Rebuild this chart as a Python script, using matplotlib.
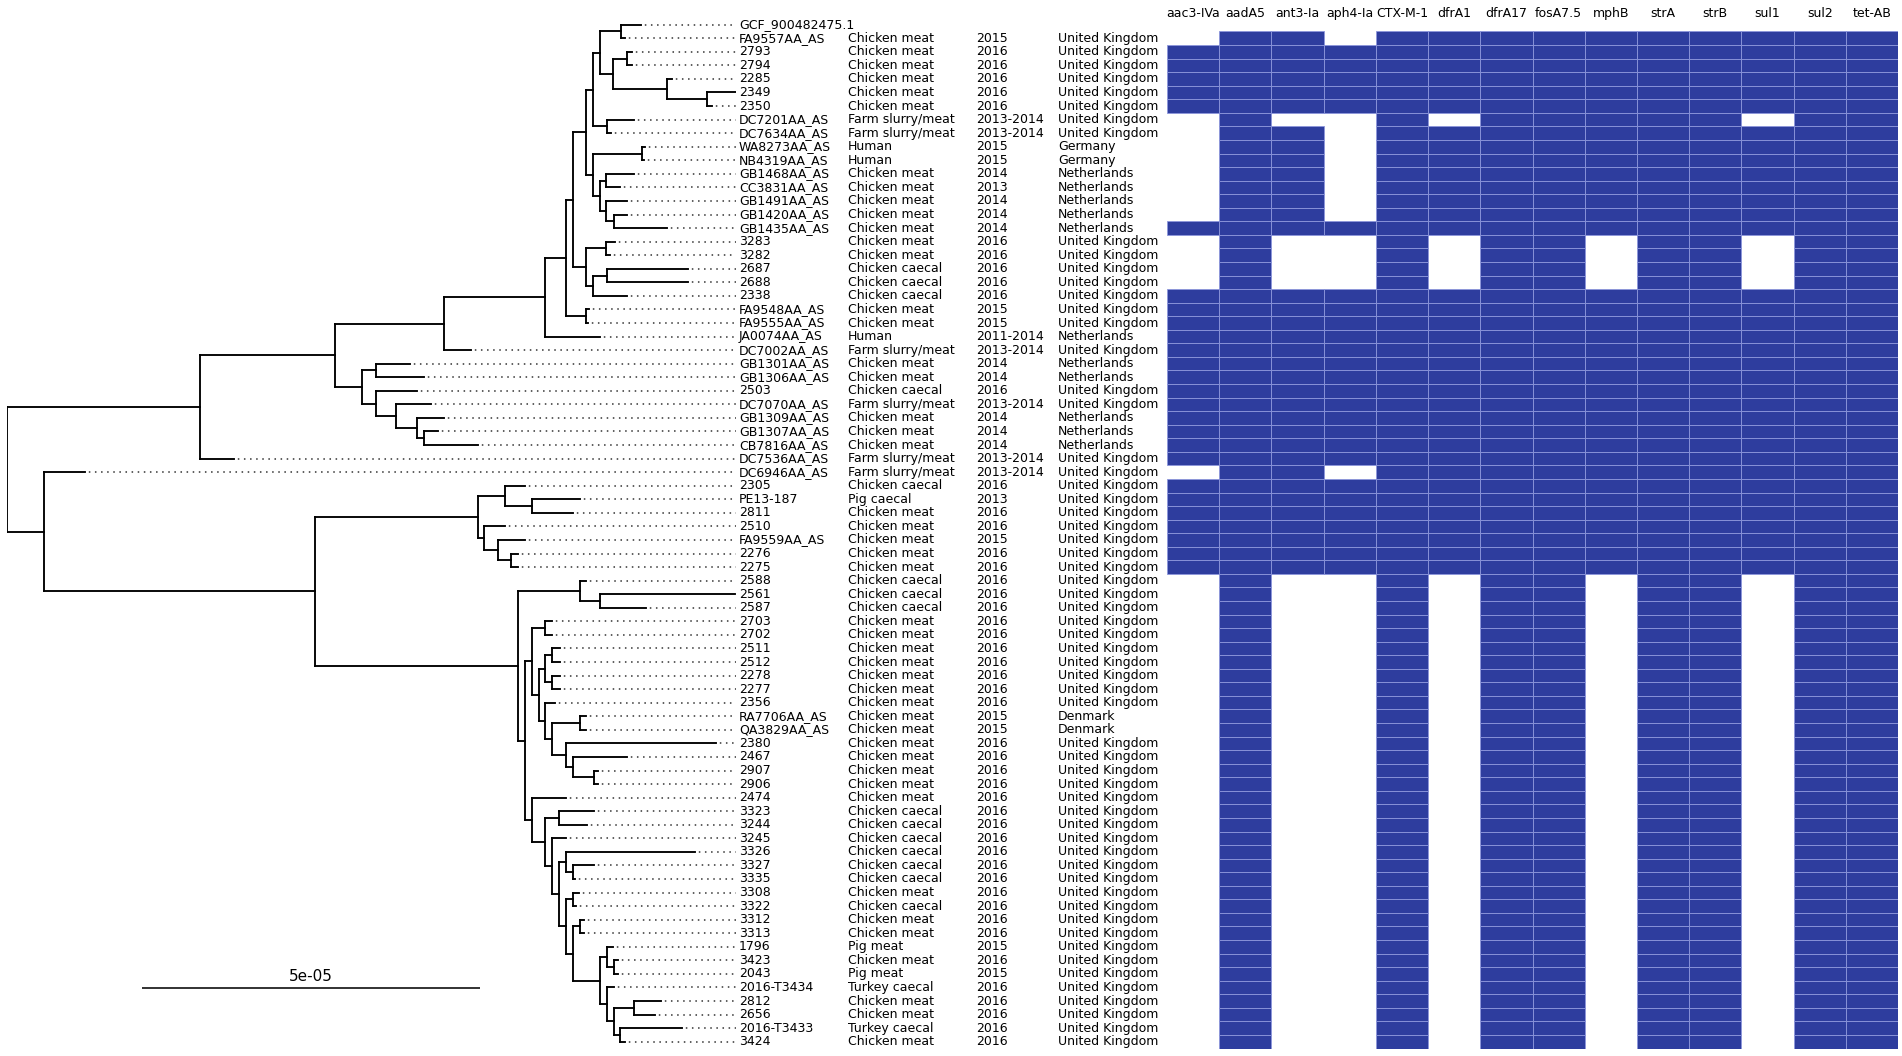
import re
import numpy as np
import matplotlib
matplotlib.use("Agg")
import matplotlib.pyplot as plt
from matplotlib.collections import LineCollection

# ---------------- data ----------------
TREE_UNIT = 1e-6   # branch lengths below are given in units of 1e-6 substitutions/site

# upper clade
P1 = "((GCF_900482475.1:2.93,FA9557AA_AS:0.59):3.11,((2793:0.74,2794:0.74):2.13,(2285:0.67,(2349:4.73,2350:0.67):5.92):8.05):1.86)"
Q = "(DC7201AA_AS:4.07,DC7634AA_AS:0.59)"
H1 = f"({P1}:1.09,{Q}:2.06)"
P2 = "((GB1468AA_AS:4.07,CC3831AA_AS:2.00):0.96,(GB1491AA_AS:3.03,(GB1420AA_AS:2.00,GB1435AA_AS:7.91):1.04):0.96)"
H2 = f"((WA8273AA_AS:0.44,NB4319AA_AS:0.30):7.31,{P2}:1.09)"
G = f"({H1}:0.98,{H2}:0.98)"
G2 = "((3283:1.21,3282:0.59):3.03,((2687:12.06,2688:12.06):2.06,2338:5.09):0.98)"
F = f"({G}:1.98,{G2}:1.98)"
E = f"({F}:1.02,(FA9548AA_AS:0.44,FA9555AA_AS:0.30):3.00)"
D = f"({E}:3.06,JA0074AA_AS:8.14)"
C = f"({D}:14.99,DC7002AA_AS:4.10)"
N362 = "((GB1301AA_AS:5.03,GB1306AA_AS:7.17):2.01,(2503:6.07,(DC7070AA_AS:5.12,(GB1309AA_AS:4.04,(GB1307AA_AS:2.06,CB7816AA_AS:8.03):1.04):3.06):2.96):2.01)"
B = f"({C}:16.01,{N362}:3.98)"
A = f"({B}:20.04,DC7536AA_AS:5.03)"

# lower clade
J1 = "(2305:2.96,(PE13-187:7.10,2811:6.07):3.99)"
J2 = "(2510:3.03,(FA9559AA_AS:3.99,(2276:1.04,2275:1.04):1.92):2.00)"
J = f"({J1}:4.05,{J2}:1.02)"
K1 = "(2588:0.89,(2561:19.91,2587:6.80):2.96)"
N552c = "((RA7706AA_AS:0.89,QA3829AA_AS:0.89):4.14,(2380:22.22,(2467:8.05,(2907:0.65,2906:0.65):3.11):1.05):2.00)"
L2 = f"(((2511:1.18,2512:1.18):1.04,(2278:1.18,2277:1.18):1.04):0.89,(2356:1.50,{N552c}:1.04):0.89)"
L1 = f"((2703:0.98,2702:0.98):1.92,{L2}:1.04)"
N600b = "((1796:0.90,(3423:0.67,2043:0.67):1.04):0.96,(2016-T3434:1.11,((2812:4.05,2656:3.12):2.97,(2016-T3433:9.17,3424:0.74):0.96):1.04):0.96)"
N565b = f"((3308:0.95,3322:0.50):1.05,((3312:0.59,3313:0.59):1.09,{N600b}:4.05):1.05)"
N559b = f"((3326:19.11,(3327:3.11,3335:0.36):1.05):0.96,{N565b}:0.96)"
N552d = f"(3245:2.00,{N559b}:1.04)"
N545d = f"((3323:5.12,3244:4.07):2.07,{N552d}:1.04)"
L3 = f"(2474:4.96,{N545d}:1.92)"
K2 = f"({L1}:1.04,{L3}:1.04)"
K = f"({K1}:9.17,{K2}:1.04)"
I = f"({J}:24.05,{K}:30.03)"
Hn = f"(DC6946AA_AS:6.07,{I}:40.09)"
TREE = f"({A}:28.55,{Hn}:5.47);"

isolates = ["GCF_900482475.1", "FA9557AA_AS", "2793", "2794", "2285", "2349", "2350",
            "DC7201AA_AS", "DC7634AA_AS", "WA8273AA_AS", "NB4319AA_AS", "GB1468AA_AS",
            "CC3831AA_AS", "GB1491AA_AS", "GB1420AA_AS", "GB1435AA_AS", "3283", "3282",
            "2687", "2688", "2338", "FA9548AA_AS", "FA9555AA_AS", "JA0074AA_AS",
            "DC7002AA_AS", "GB1301AA_AS", "GB1306AA_AS", "2503", "DC7070AA_AS",
            "GB1309AA_AS", "GB1307AA_AS", "CB7816AA_AS", "DC7536AA_AS", "DC6946AA_AS",
            "2305", "PE13-187", "2811", "2510", "FA9559AA_AS", "2276", "2275", "2588",
            "2561", "2587", "2703", "2702", "2511", "2512", "2278", "2277", "2356",
            "RA7706AA_AS", "QA3829AA_AS", "2380", "2467", "2907", "2906", "2474", "3323",
            "3244", "3245", "3326", "3327", "3335", "3308", "3322", "3312", "3313", "1796",
            "3423", "2043", "2016-T3434", "2812", "2656", "2016-T3433", "3424"]

CM, CC, FS = "Chicken meat", "Chicken caecal", "Farm slurry/meat"
sources = ["", CM, CM, CM, CM, CM, CM, FS, FS, "Human", "Human", CM, CM, CM, CM, CM,
           CM, CM, CC, CC, CC, CM, CM, "Human", FS, CM, CM, CC, FS, CM, CM, CM, FS, FS,
           CC, "Pig caecal", CM, CM, CM, CM, CM, CC, CC, CC, CM, CM, CM, CM, CM, CM, CM,
           CM, CM, CM, CM, CM, CM, CM, CC, CC, CC, CC, CC, CC, CM, CC, CM, CM, "Pig meat",
           CM, "Pig meat", "Turkey caecal", CM, CM, "Turkey caecal", CM]

years = ["", "2015", "2016", "2016", "2016", "2016", "2016", "2013-2014", "2013-2014",
         "2015", "2015", "2014", "2013", "2014", "2014", "2014", "2016", "2016", "2016",
         "2016", "2016", "2015", "2015", "2011-2014", "2013-2014", "2014", "2014", "2016",
         "2013-2014", "2014", "2014", "2014", "2013-2014", "2013-2014", "2016", "2013",
         "2016", "2016", "2015", "2016", "2016", "2016", "2016", "2016", "2016", "2016",
         "2016", "2016", "2016", "2016", "2016", "2015", "2015", "2016", "2016", "2016",
         "2016", "2016", "2016", "2016", "2016", "2016", "2016", "2016", "2016", "2016",
         "2016", "2016", "2015", "2016", "2015", "2016", "2016", "2016", "2016", "2016"]

UK, NL, DE, DK = "United Kingdom", "Netherlands", "Germany", "Denmark"
countries = ["", UK, UK, UK, UK, UK, UK, UK, UK, DE, DE, NL, NL, NL, NL, NL, UK, UK,
             UK, UK, UK, UK, UK, NL, UK, NL, NL, UK, UK, NL, NL, NL, UK, UK, UK, UK,
             UK, UK, UK, UK, UK, UK, UK, UK, UK, UK, UK, UK, UK, UK, UK, DK, DK, UK,
             UK, UK, UK, UK, UK, UK, UK, UK, UK, UK, UK, UK, UK, UK, UK, UK, UK, UK,
             UK, UK, UK, UK]

genes = ["aac3-IVa", "aadA5", "ant3-Ia", "aph4-Ia", "CTX-M-1", "dfrA1", "dfrA17",
         "fosA7.5", "mphB", "strA", "strB", "sul1", "sul2", "tet-AB"]

# presence (1) / absence (0) of each gene, one string per isolate (row order above)
gene_calls = [
    "",
    "01101111111111",
    "11111111111111", "11111111111111", "11111111111111", "11111111111111", "11111111111111",
    "01001011111011",
    "01101111111111", "01101111111111", "01101111111111", "01101111111111",
    "01101111111111", "01101111111111", "01101111111111",
    "11111111111111",
    "01001011011011", "01001011011011", "01001011011011", "01001011011011",
    "11111111111111", "11111111111111", "11111111111111", "11111111111111",
    "11111111111111", "11111111111111", "11111111111111", "11111111111111",
    "11111111111111", "11111111111111", "11111111111111", "11111111111111",
    "11111111111111",
    "01101111111111",
    "11111111111111", "11111111111111", "11111111111111", "11111111111111",
    "11111111111111", "11111111111111", "11111111111111",
    "01001011011011", "01001011011011", "01001011011011", "01001011011011",
    "01001011011011", "01001011011011", "01001011011011", "01001011011011",
    "01001011011011", "01001011011011", "01001011011011", "01001011011011",
    "01001011011011", "01001011011011", "01001011011011", "01001011011011",
    "01001011011011", "01001011011011", "01001011011011", "01001011011011",
    "01001011011011", "01001011011011", "01001011011011", "01001011011011",
    "01001011011011", "01001011011011", "01001011011011", "01001011011011",
    "01001011011011", "01001011011011", "01001011011011", "01001011011011",
    "01001011011011", "01001011011011", "01001011011011",
]

SCALE_LEN = 5e-05

# ---------------- tree parsing / layout ----------------
def parse_newick(s):
    tokens = re.findall(r"[(),;]|[^(),;]+", s)
    pos = 0

    def node():
        nonlocal pos
        n = {"name": "", "len": 0.0, "children": []}
        if tokens[pos] == "(":
            pos += 1
            while True:
                n["children"].append(node())
                if tokens[pos] == ",":
                    pos += 1
                else:
                    pos += 1
                    break
        if pos < len(tokens) and tokens[pos] not in ("(", ")", ",", ";"):
            lab = tokens[pos]
            pos += 1
            if ":" in lab:
                nm, ln = lab.rsplit(":", 1)
                n["name"] = nm.strip()
                n["len"] = float(ln)
            else:
                n["name"] = lab.strip()
        return n

    return node()


row_of = {nm: i + 1 for i, nm in enumerate(isolates)}
root = parse_newick(TREE)


def layout(n, x0):
    n["x"] = x0 + n["len"] * TREE_UNIT
    if n["children"]:
        for c in n["children"]:
            layout(c, n["x"])
        n["y"] = (n["children"][0]["y"] + n["children"][-1]["y"]) / 2.0
    else:
        n["y"] = row_of[n["name"]]


root["len"] = 0.0
layout(root, 0.0)

segs, leaves = [], []


def collect(n):
    if n["children"]:
        segs.append([(n["x"], n["children"][0]["y"]), (n["x"], n["children"][-1]["y"])])
        for c in n["children"]:
            segs.append([(n["x"], c["y"]), (c["x"], c["y"])])
            collect(c)
    else:
        leaves.append(n)


collect(root)

# ---------------- figure ----------------
W, H = 1902, 1056
fig = plt.figure(figsize=(W / 100, H / 100), dpi=100)
nrows = len(isolates)
top_px, bot_px = 17.9, 1048.5
ax_bottom = 1 - bot_px / H
ax_height = (bot_px - top_px) / H

tree_left_px, tree_right_px = 7, 736
tree_xmax = (tree_right_px - tree_left_px) / 6.76 * 1e-6

ax_t = fig.add_axes([tree_left_px / W, ax_bottom, (tree_right_px - tree_left_px) / W, ax_height])
ax_t.set_xlim(0, tree_xmax)
ax_t.set_ylim(nrows + 0.5, 0.5)
ax_t.axis("off")

ax_t.add_collection(LineCollection(segs, colors="black", linewidths=1.35,
                                   capstyle="projecting", joinstyle="miter"))
for lf in leaves:
    if lf["x"] < tree_xmax * 0.995:
        ax_t.plot([lf["x"], tree_xmax], [lf["y"], lf["y"]], color="#333333",
                  lw=1.1, linestyle=(1.5, (1, 3.0)), clip_on=False)

# scale bar
bar_y = 72.02
bar_x0 = 2.0e-5
ax_t.plot([bar_x0, bar_x0 + SCALE_LEN], [bar_y, bar_y], color="#222222", lw=1.3,
          solid_capstyle="butt")
ax_t.text(bar_x0 + SCALE_LEN / 2, bar_y - 0.85, "5e-05", ha="center", va="center",
          fontsize=11)

# label columns
ax_l = fig.add_axes([739 / W, ax_bottom, (1160 - 739) / W, ax_height])
ax_l.set_xlim(0, 421)
ax_l.set_ylim(nrows + 0.5, 0.5)
ax_l.axis("off")
col_x = [0, 108.5, 237.5, 319]
for i in range(nrows):
    r = i + 1
    for cx, txt in zip(col_x, [isolates[i], sources[i], years[i], countries[i]]):
        if txt:
            ax_l.text(cx, r, txt, ha="left", va="center", fontsize=9)

# heatmap: one bar per gene present
ax_h = fig.add_axes([1167 / W, ax_bottom, (1898 - 1167) / W, ax_height])
cell_x, cell_y = [], []
for i, s in enumerate(gene_calls):
    for j, ch in enumerate(s):
        if ch == "1":
            cell_x.append(j + 0.5)
            cell_y.append(i + 1)
ax_h.bar(cell_x, height=1.0, width=1.0, bottom=np.array(cell_y) - 0.5,
         color="#2e3d9e", edgecolor="#8d97dc", linewidth=0.6)
ax_h.set_xlim(0, len(genes))
ax_h.set_ylim(nrows + 0.5, 0.5)
ax_h.axis("off")
for j, g in enumerate(genes):
    ax_h.text(j + 0.5, 0.41, g, ha="center", va="baseline", fontsize=9)

fig.savefig("out.png", dpi=100, facecolor="white")
